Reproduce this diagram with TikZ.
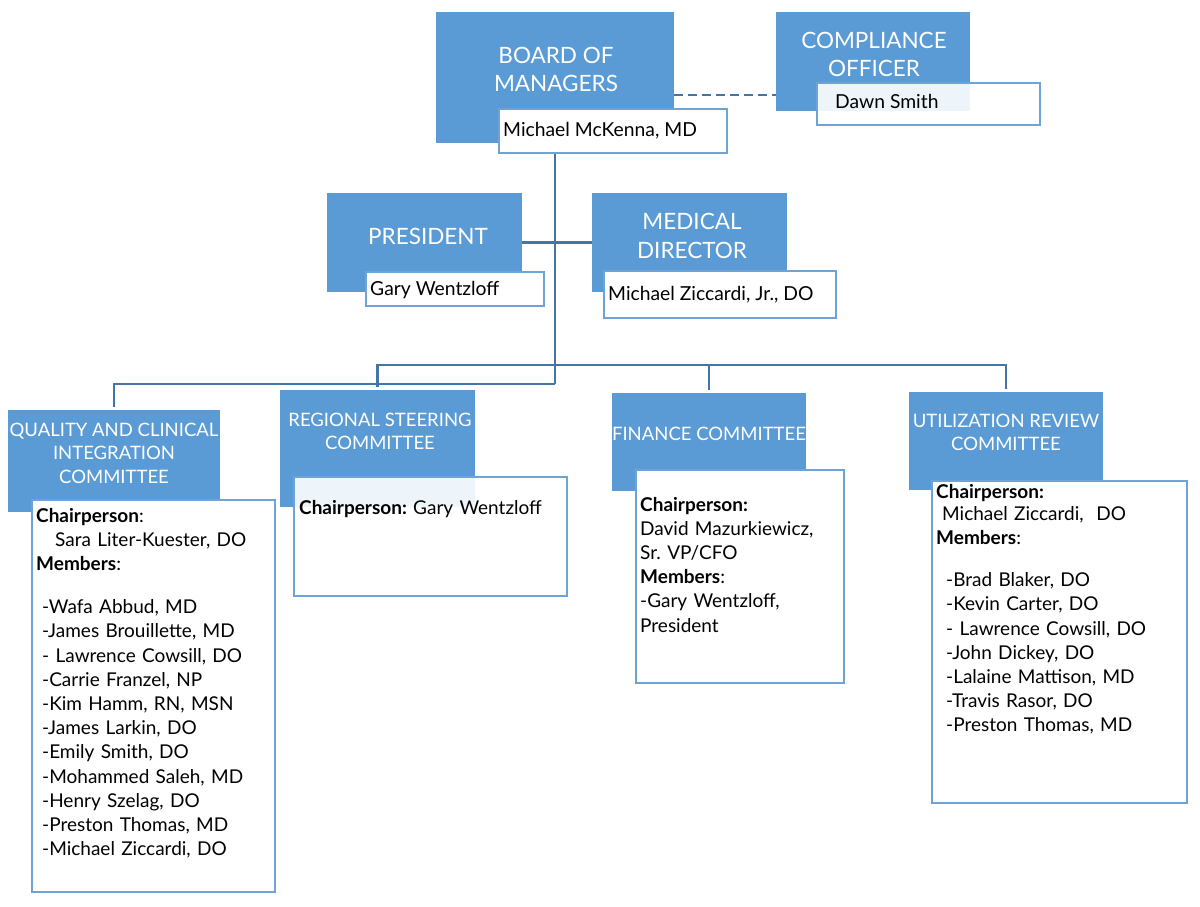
\documentclass[tikz,border=0pt]{standalone}
\usepackage{fontspec}
\setmainfont{Lato}
\definecolor{bfill}{RGB}{91,155,213}
\definecolor{bline}{RGB}{68,117,165}
\definecolor{wline}{RGB}{111,163,216}
\tikzset{
  bluebox/.style={fill=bfill, draw=none, inner sep=0pt, anchor=north west},
  whitebox/.style={fill=white, draw=wline, line width=2pt, inner sep=0pt, anchor=north west},
  tintbox/.style={whitebox, fill opacity=0.9},
  conn/.style={draw=bline, line width=2.5pt},
  dashconn/.style={conn, dash pattern=on 9pt off 5pt},
  hdr/.style={text=white, align=center, inner sep=0pt, anchor=base, font=\fontsize{22.5}{28.5}\selectfont},
  chdr/.style={text=white, align=center, inner sep=0pt, anchor=base, font=\fontsize{18.5}{23.5}\selectfont},
  namet/.style={inner sep=0pt, anchor=base west, font=\fontsize{19.3}{24}\selectfont},
  bodyt/.style={inner sep=0pt, anchor=base west, align=left, text width=#1, font=\fontsize{19}{24.2}\selectfont\frenchspacing},
}
\begin{document}
\begin{tikzpicture}[x=1pt,y=-1pt]
\useasboundingbox (0,0) rectangle (1200,907);
\fill[white] (0,0) rectangle (1200,907);

% ---- top level
\node[bluebox, minimum width=238pt, minimum height=131pt] (bom) at (436,12) {};
\node[whitebox, minimum width=228pt, minimum height=44pt] (bomw) at (498,108) {};
\node[hdr] (bomt) at (556,92) {BOARD OF\\MANAGERS};
\node[namet] (bomn) at (503,136) {Michael McKenna, MD};

\node[bluebox, minimum width=194pt, minimum height=99pt] (co) at (776,12) {};
\node[tintbox, minimum width=223pt, minimum height=42pt] (cow) at (816,82) {};
\node[hdr] (cot) at (874,77) {COMPLIANCE\\OFFICER};
\node[namet] (con) at (835,109) {Dawn Smith};

\coordinate (dl) at (0,95);
\draw[dashconn] (bom.east |- dl) -- (co.west |- dl);

% ---- second level
\node[bluebox, minimum width=195pt, minimum height=99pt] (pres) at (327,193) {};
\node[whitebox, minimum width=178pt, minimum height=34pt] (presw) at (365,271) {};
\node[hdr] (prest) at (428,244) {PRESIDENT};
\node[namet] (presn) at (370,295) {Gary Wentzloff};

\node[bluebox, minimum width=195pt, minimum height=99pt] (med) at (592,193) {};
\node[whitebox, minimum width=232pt, minimum height=47pt] (medw) at (603,270) {};
\node[hdr] (medt) at (692,258) {MEDICAL\\DIRECTOR};
\node[namet] (medn) at (608,300) {Michael Ziccardi, Jr., DO};

% ---- committees
\node[bluebox, minimum width=212pt, minimum height=102pt] (qual) at (8,410) {};
\node[whitebox, minimum width=243pt, minimum height=392pt] (qualw) at (31,499) {};
\node[chdr] (qualt) at (114,483) {QUALITY AND CLINICAL\\INTEGRATION\\COMMITTEE};
\node[bodyt=235pt] (qualb) at (36,522) {\textbf{Chairperson}:\\
\hspace*{19pt}Sara Liter-Kuester, DO\\
\textbf{Members}:\\[19pt]
\hspace*{6pt}-Wafa Abbud, MD\\
\hspace*{6pt}-James Brouillette, MD\\
\hspace*{6pt}- Lawrence Cowsill, DO\\
\hspace*{6pt}-Carrie Franzel, NP\\
\hspace*{6pt}-Kim Hamm, RN, MSN\\
\hspace*{6pt}-James Larkin, DO\\
\hspace*{6pt}-Emily Smith, DO\\
\hspace*{6pt}-Mohammed Saleh, MD\\
\hspace*{6pt}-Henry Szelag, DO\\
\hspace*{6pt}-Preston Thomas, MD\\
\hspace*{6pt}-Michael Ziccardi, DO};

\node[bluebox, minimum width=195pt, minimum height=117pt] (reg) at (280,390) {};
\node[tintbox, minimum width=273pt, minimum height=119pt] (regw) at (293,476) {};
\node[chdr] (regt) at (380,449.5) {REGIONAL STEERING\\COMMITTEE};
\node[bodyt=265pt] (regb) at (299,514) {\textbf{Chairperson:} Gary Wentzloff};

\node[bluebox, minimum width=194pt, minimum height=98pt] (fin) at (612,393) {};
\node[whitebox, minimum width=208pt, minimum height=213pt] (finw) at (635,469) {};
\node[chdr] (fint) at (709,440) {FINANCE COMMITTEE};
\node[bodyt=200pt] (finb) at (640,511) {\textbf{Chairperson:}\\
David Mazurkiewicz,\\
Sr. VP/CFO\\
\textbf{Members}:\\
-Gary Wentzloff,\\
President};

\node[bluebox, minimum width=194pt, minimum height=98pt] (util) at (909,392) {};
\node[whitebox, minimum width=255pt, minimum height=322pt] (utilw) at (931,480) {};
\node[chdr] (utilt) at (1006,450.5) {UTILIZATION REVIEW\\COMMITTEE};
\node[bodyt=245pt] (utilb) at (936,498) {\textbf{Chairperson:}\\[-2pt]
\hspace*{6pt}Michael Ziccardi,\ \ DO\\
\textbf{Members}:\\[18pt]
\hspace*{10pt}-Brad Blaker, DO\\
\hspace*{10pt}-Kevin Carter, DO\\
\hspace*{10pt}- Lawrence Cowsill, DO\\
\hspace*{10pt}-John Dickey, DO\\
\hspace*{10pt}-Lalaine Mattison, MD\\
\hspace*{10pt}-Travis Rasor, DO\\
\hspace*{10pt}-Preston Thomas, MD};

% ---- connectors
\coordinate (j1) at (555,365);
\coordinate (j2) at (555,384);
\draw[conn] (bom.center |- bomw.south) -- (bom.center |- j2);
\draw[conn] (pres.east) -- (med.west);
\draw[conn] ([yshift=3pt]reg.north) -- (reg.north |- j1) -- (util.north |- j1) -- ([yshift=3pt]util.north);
\draw[conn] (fin.north |- j1) -- ([yshift=3pt]fin.north);
\draw[conn] ([yshift=3pt]qual.north) -- (qual.north |- j2) -- (bom.center |- j2);
\end{tikzpicture}
\end{document}
